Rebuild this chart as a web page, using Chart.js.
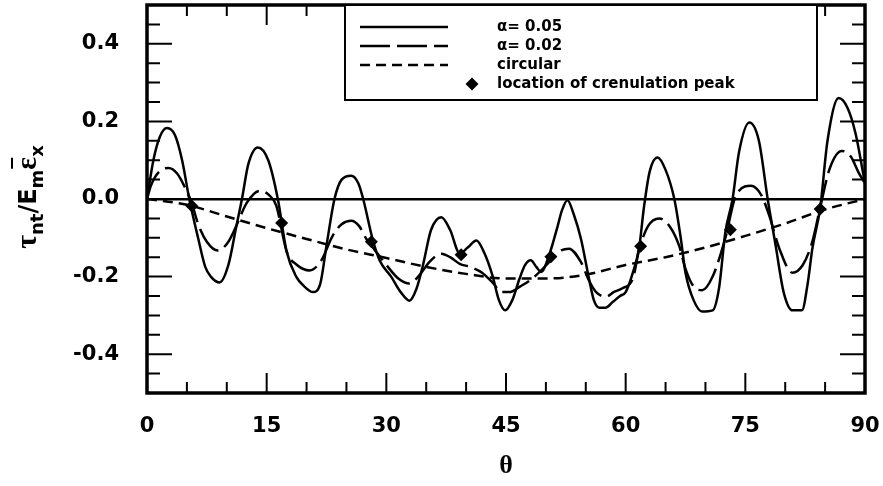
<!DOCTYPE html>
<html>
<head>
<meta charset="utf-8">
<script src="https://cdn.jsdelivr.net/npm/chart.js@4.4.0/dist/chart.umd.min.js"></script>
<style>
  html, body { margin: 0; padding: 0; background: #fff; }
</style>
</head>
<body>
<canvas id="myChart" width="883" height="486"></canvas>
<script>
// theta in degrees, values are tau_nt / (E_m * eps_x)
const alpha05Theta = [0, 0.8, 1.6, 2.5, 3.5, 4.4, 5.3, 6.4, 7.3, 8.0, 9.1, 10.2, 11.2, 11.9, 12.7, 13.9, 15.2, 16.4, 17.5, 18.7, 19.7, 20.8, 21.7, 22.5, 23.5, 24.4, 25.6, 26.5, 27.1, 28.3, 29.2, 30.6, 31.8, 32.9, 33.8, 34.6, 35.6, 36.9, 38.0, 39.2, 40.2, 41.3, 42.3, 43.3, 44.1, 44.9, 45.8, 46.7, 47.4, 48.1, 48.8, 49.4, 50.4, 51.5, 52.0, 52.7, 53.5, 54.4, 55.4, 56.0, 56.7, 57.5, 58.4, 59.3, 60.0, 60.9, 61.7, 62.3, 63.0, 64.0, 65.0, 66.1, 66.9, 67.5, 68.5, 69.6, 70.9, 71.7, 72.5, 73.4, 74.2, 75.5, 76.7, 77.8, 78.8, 79.8, 80.9, 82.1, 82.8, 83.4, 84.4, 85.3, 86.7, 87.8, 88.8, 90.0];
const alpha05Tau = [0, 0.10, 0.16, 0.183, 0.165, 0.10, 0.0, -0.10, -0.175, -0.20, -0.215, -0.17, -0.07, 0.0, 0.09, 0.133, 0.10, 0.0, -0.135, -0.20, -0.225, -0.24, -0.22, -0.12, 0.0, 0.05, 0.06, 0.04, 0.0, -0.105, -0.16, -0.20, -0.24, -0.262, -0.23, -0.17, -0.08, -0.047, -0.08, -0.14, -0.125, -0.107, -0.14, -0.197, -0.26, -0.287, -0.26, -0.205, -0.17, -0.158, -0.175, -0.188, -0.145, -0.068, -0.03, -0.003, -0.04, -0.103, -0.205, -0.26, -0.28, -0.28, -0.265, -0.25, -0.24, -0.19, -0.124, -0.02, 0.07, 0.107, 0.075, 0.0, -0.10, -0.19, -0.26, -0.29, -0.287, -0.23, -0.085, 0.0, 0.12, 0.197, 0.15, 0.0, -0.12, -0.24, -0.287, -0.287, -0.22, -0.128, -0.02, 0.15, 0.26, 0.235, 0.17, 0.04];

const alpha02Theta = [0, 0.5, 1.5, 2.7, 3.8, 4.75, 5.6, 6.4, 7.5, 8.9, 10.2, 11.2, 12.5, 14.1, 15.3, 16.2, 17.5, 18.8, 20.4, 21.8, 23.3, 24.4, 25.6, 26.6, 27.5, 28.5, 30.0, 31.5, 32.9, 34.0, 35.5, 36.9, 38.0, 39.2, 40.5, 42.0, 43.3, 44.5, 45.4, 46.8, 48.3, 50.4, 51.7, 52.9, 54.4, 55.4, 56.3, 57.5, 58.5, 59.6, 60.9, 61.7, 62.8, 64.2, 65.5, 66.7, 67.5, 68.5, 69.6, 70.9, 72.5, 73.8, 75.7, 77.0, 78.0, 79.3, 80.9, 82.2, 83.4, 84.4, 85.6, 87.1, 88.2, 89.2, 90.0];
const alpha02Tau = [0, 0.035, 0.07, 0.08, 0.065, 0.03, -0.01, -0.064, -0.11, -0.133, -0.11, -0.069, -0.01, 0.021, 0.01, -0.017, -0.135, -0.17, -0.184, -0.16, -0.094, -0.065, -0.056, -0.07, -0.103, -0.13, -0.17, -0.205, -0.218, -0.20, -0.16, -0.141, -0.15, -0.167, -0.175, -0.19, -0.215, -0.24, -0.24, -0.225, -0.205, -0.163, -0.135, -0.128, -0.163, -0.21, -0.24, -0.252, -0.24, -0.23, -0.205, -0.13, -0.07, -0.05, -0.07, -0.12, -0.18, -0.225, -0.235, -0.20, -0.10, 0.008, 0.034, 0.01, -0.043, -0.13, -0.19, -0.17, -0.11, -0.02, 0.08, 0.124, 0.11, 0.068, 0.04];

const circularTheta = [0, 5, 10, 15, 20, 25, 30, 35, 40, 45, 50, 55, 60, 65, 70, 75, 80, 85, 90];
const circularTau = [0, -0.015, -0.045, -0.075, -0.103, -0.13, -0.152, -0.175, -0.193, -0.205, -0.205, -0.195, -0.17, -0.15, -0.125, -0.095, -0.063, -0.027, 0];

const peakTheta = [5.625, 16.875, 28.125, 39.375, 50.625, 61.875, 73.125, 84.375];
const peakTau = [-0.018, -0.062, -0.11, -0.144, -0.149, -0.122, -0.079, -0.026];

const thetaLabels = [0, 15, 30, 45, 60, 75, 90];
const tauLabels = [-0.4, -0.2, 0, 0.2, 0.4];

const legendLabels = ["\u03b1= 0.05", "\u03b1= 0.02", "circular", "location of crenulation peak"];

const toPoints = (xs, ys) => xs.map((x, i) => ({ x: x, y: ys[i] }));

const FONT = "'DejaVu Sans', sans-serif";

// no extra room around the plot from tick label overhang
function noScalePadding(s) {
  s.paddingTop = 0;
  s.paddingBottom = 0;
  s.paddingLeft = 0;
  s.paddingRight = 0;
}

// frame, inward ticks on all four sides, boxed legend and the y axis title
const decor = {
  id: "decor",
  afterDraw(chart) {
    const ctx = chart.ctx;
    const { left, right, top, bottom } = chart.chartArea;
    const xs = chart.scales.x, ys = chart.scales.y;
    ctx.save();
    ctx.strokeStyle = "#000";
    ctx.lineCap = "butt";

    ctx.lineWidth = 2;
    for (let k = 1; k < 18; k++) {
      const px = xs.getPixelForValue(k * 5);
      const len = k % 3 === 0 ? 20 : 11;
      ctx.beginPath();
      ctx.moveTo(px, bottom); ctx.lineTo(px, bottom - len);
      ctx.moveTo(px, top); ctx.lineTo(px, top + len);
      ctx.stroke();
    }
    for (let k = -9; k <= 9; k++) {
      const py = ys.getPixelForValue(k * 0.05);
      const len = k % 4 === 0 ? 25 : 13;
      ctx.beginPath();
      ctx.moveTo(left, py); ctx.lineTo(left + len, py);
      ctx.moveTo(right, py); ctx.lineTo(right - len, py);
      ctx.stroke();
    }

    ctx.lineWidth = 3.5;
    ctx.strokeRect(left, top, right - left, bottom - top);

    // legend box
    const bx = 345, by = top, bw = 472, bh = 95;
    ctx.fillStyle = "#fff";
    ctx.fillRect(bx, by, bw, bh);
    ctx.lineWidth = 2;
    ctx.strokeRect(bx, by, bw, bh);
    const ds = chart.data.datasets;
    const rowY = [27, 46, 65, 84];
    ctx.font = "bold 15px " + FONT;
    ctx.textBaseline = "middle";
    ctx.textAlign = "left";
    for (let i = 0; i < 4; i++) {
      const d = ds[i];
      if (i < 3) {
        ctx.setLineDash(d.borderDash || []);
        ctx.lineWidth = d.borderWidth;
        ctx.beginPath();
        ctx.moveTo(360, rowY[i]);
        ctx.lineTo(448, rowY[i]);
        ctx.stroke();
        ctx.setLineDash([]);
      } else {
        ctx.fillStyle = "#000";
        ctx.beginPath();
        ctx.moveTo(472, rowY[i] - 6.5);
        ctx.lineTo(478.5, rowY[i]);
        ctx.lineTo(472, rowY[i] + 6.5);
        ctx.lineTo(465.5, rowY[i]);
        ctx.closePath();
        ctx.fill();
      }
      ctx.fillStyle = "#000";
      ctx.fillText(legendLabels[i], 497, rowY[i]);
    }

    // y title: tau_nt / E_m eps_x (rotated)
    const parts = [
      { t: "\u03c4", f: "bold 30px 'Liberation Serif', serif", dy: 0 },
      { t: "nt", f: "bold 18px " + FONT, dy: 7 },
      { t: "/E", f: "bold 24px " + FONT, dy: 0 },
      { t: "m", f: "bold 18px " + FONT, dy: 7 },
      { t: "\u03b5", f: "bold 30px 'Liberation Serif', serif", dy: 0, bar: true },
      { t: "x", f: "bold 18px " + FONT, dy: 7 }
    ];
    let total = 0;
    parts.forEach(p => { ctx.font = p.f; p.w = ctx.measureText(p.t).width; total += p.w; });
    ctx.translate(36, 197);
    ctx.rotate(-Math.PI / 2);
    ctx.textBaseline = "alphabetic";
    let cx = -total / 2;
    parts.forEach(p => {
      ctx.font = p.f;
      ctx.fillText(p.t, cx, p.dy);
      if (p.bar) {
        ctx.lineWidth = 2;
        ctx.beginPath();
        ctx.moveTo(cx + 1, -24);
        ctx.lineTo(cx + p.w - 1, -24);
        ctx.stroke();
      }
      cx += p.w;
    });
    ctx.restore();
  }
};

const ctx = document.getElementById("myChart").getContext("2d");
const chart = new Chart(ctx, {
  type: "line",
  data: {
    datasets: [
      {
        label: legendLabels[0],
        data: toPoints(alpha05Theta, alpha05Tau),
        borderColor: "#000",
        borderWidth: 2.5,
        pointRadius: 0,
        cubicInterpolationMode: "monotone",
      },
      {
        label: legendLabels[1],
        data: toPoints(alpha02Theta, alpha02Tau),
        borderColor: "#000",
        borderWidth: 2.5,
        borderDash: [30, 7],
        pointRadius: 0,
        cubicInterpolationMode: "monotone",
      },
      {
        label: legendLabels[2],
        data: toPoints(circularTheta, circularTau),
        borderColor: "#000",
        borderWidth: 2.5,
        borderDash: [10, 6],
        pointRadius: 0,
        cubicInterpolationMode: "monotone",
      },
      {
        label: legendLabels[3],
        data: toPoints(peakTheta, peakTau),
        showLine: false,
        pointStyle: "rectRot",
        pointRadius: 6.5,
        pointBackgroundColor: "#000",
        pointBorderColor: "#000",
        pointBorderWidth: 0,
      },
    ],
  },
  options: {
    responsive: false,
    animation: false,
    layout: { autoPadding: false, padding: { left: 0, top: 5, right: 18, bottom: 0 } },
    plugins: {
      legend: { display: false },
      tooltip: { enabled: false },
    },
    scales: {
      x: {
        type: "linear",
        min: 0,
        max: 90,
        afterFit: (s) => { s.height = 93; noScalePadding(s); },
        afterBuildTicks: (s) => { s.ticks = thetaLabels.map((v) => ({ value: v })); },
        grid: { display: false },
        border: { display: false },
        ticks: {
          padding: 13,
          color: "#000",
          font: { family: FONT, size: 21, weight: "bold" },
          maxRotation: 0,
        },
        title: {
          display: true,
          text: "\u03b8",
          color: "#000",
          font: { family: "'Liberation Serif', serif", size: 26, weight: "bold" },
          padding: { top: 0, bottom: 4 },
        },
      },
      y: {
        min: -0.5,
        max: 0.5,
        afterFit: (s) => { s.width = 147; noScalePadding(s); },
        afterBuildTicks: (s) => { s.ticks = tauLabels.map((v) => ({ value: v })); },
        grid: {
          drawTicks: false,
          lineWidth: 2.5,
          color: (c) => (c.tick && Math.abs(c.tick.value) < 1e-9 ? "#000" : "rgba(0,0,0,0)"),
        },
        border: { display: false },
        ticks: {
          padding: 28,
          color: "#000",
          font: { family: FONT, size: 21, weight: "bold" },
          callback: (v) => (Math.abs(v) < 1e-9 ? "0.0" : v.toFixed(1)),
        },
      },
    },
  },
  plugins: [decor],
});
</script>
</body>
</html>
